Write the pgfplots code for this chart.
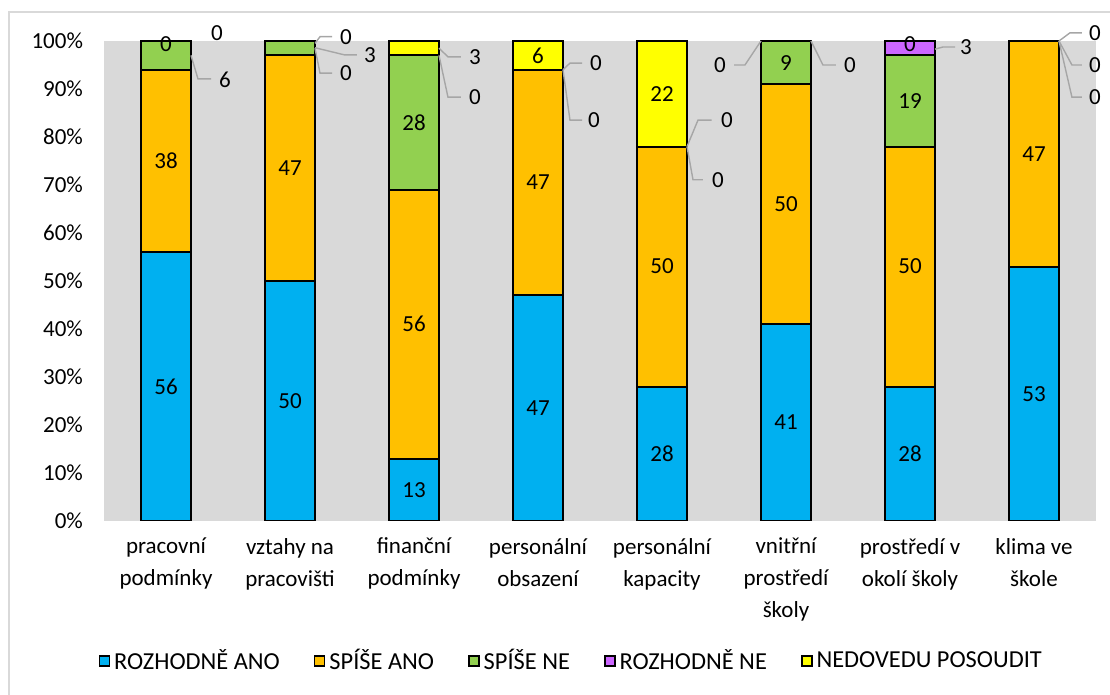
\documentclass[border=0pt]{standalone}
\usepackage{pgfplots}
\pgfplotsset{compat=1.18}
\usepackage{pgfplotstable}
\usepackage{fontspec}
\setmainfont{Carlito}

\definecolor{cAno}{HTML}{00B0F0}
\definecolor{cSpiseAno}{HTML}{FFC000}
\definecolor{cSpiseNe}{HTML}{92D050}
\definecolor{cNe}{HTML}{CC66FF}
\definecolor{cNevim}{HTML}{FFFF00}
\definecolor{plotbg}{HTML}{D9D9D9}
\definecolor{leader}{HTML}{A6A6A6}

\newcommand{\chartfont}{\fontsize{11.5}{16}\selectfont}
\newcommand{\legendfont}{\fontsize{12.2}{16}\selectfont}

% share of answers per area (percent)
\pgfplotstableread{
x ano spiseano spisene ne nevim
0 56 38 6 0 0
1 50 47 3 0 0
2 13 56 28 0 3
3 47 47 0 0 6
4 28 50 0 0 22
5 41 50 9 0 0
6 28 50 19 3 0
7 53 47 0 0 0
}\data

% data labels: position and text
\pgfplotstableread{
x y label
0 28 56
0 75 38
0 99.4 0
0.476 91.9 6
0.411 101.7 0
1 25 50
1 73.5 47
1.452 100.9 0
1.645 97.1 3
1.452 93.3 0
2 6.5 13
2 41 56
2 83 28
2.492 96.7 3
2.492 88.3 0
3 23.5 47
3 70.5 47
3 97 6
3.468 95.4 0
3.452 83.5 0
4 14 28
4 53 50
4 89 22
4.524 83.5 0
4.452 71.1 0
5 20.5 41
5 66 50
5 95.5 9
4.468 95.0 0
5.516 95.0 0
6 14 28
6 53 50
6 87.5 19
6 99.4 0
6.452 98.75 3
7 26.5 53
7 76.5 47
7.492 101.7 0
7.492 95.0 0
7.492 88.3 0
}\labels

\begin{document}
\begin{tikzpicture}
\useasboundingbox (-52pt,-87pt) rectangle (503pt,260.5pt);
\clip (-52pt,-87pt) rectangle (503pt,260.5pt);
\draw[plotbg, line width=0.75pt] (-47.5pt,-120pt) -- (-47.5pt,254.5pt) -- (520pt,254.5pt);

\begin{axis}[
    at={(0,0)}, anchor=south west,
    scale only axis, width=496pt, height=240pt,
    ybar stacked, bar width=25pt,
    xmin=-0.5, xmax=7.5, ymin=0, ymax=100,
    axis line style={draw=none}, tick style={draw=none},
    axis background/.style={fill=plotbg},
    xtick={0,...,7},
    xticklabels={{pracovní\\podmínky},{vztahy na\\pracovišti},{finanční\\podmínky},{personální\\obsazení},{personální\\kapacity},{vnitřní\\prostředí\\školy},{prostředí v\\okolí školy},{klima ve\\škole}},
    xticklabel style={align=center, font=\chartfont, yshift=-5pt},
    ytick={0,10,...,100},
    yticklabels={0\%,10\%,20\%,30\%,40\%,50\%,60\%,70\%,80\%,90\%,100\%},
    yticklabel style={font=\chartfont, xshift=-7pt},
    legend style={at={(0.472,-0.292)}, anchor=center, legend columns=-1,
        draw=none, fill=none, font=\legendfont,
        /tikz/every even column/.append style={column sep=15pt}},
    legend image code/.code={\draw[#1, draw=black, line width=0.8pt] (0pt,-2.5pt) rectangle (5pt,2.5pt);},
    every axis plot/.append style={draw=black, line width=1pt},
]
\addplot[fill=cAno] table[x=x, y=ano] {\data};
\addplot[fill=cSpiseAno] table[x=x, y=spiseano] {\data};
\addplot[fill=cSpiseNe] table[x=x, y=spisene] {\data};
\addplot[fill=cNe] table[x=x, y=ne] {\data};
\addplot[fill=cNevim] table[x=x, y=nevim] {\data};
\legend{ROZHODNĚ ANO, SPÍŠE ANO, SPÍŠE NE, ROZHODNĚ NE, NEDOVEDU POSOUDIT}
\end{axis}

\begin{axis}[
    at={(0,0)}, anchor=south west,
    scale only axis, width=496pt, height=240pt,
    xmin=-0.5, xmax=7.5, ymin=0, ymax=100,
    hide axis, clip=false,
    leader/.style={draw=leader, line width=0.7pt, mark=none},
]
\addplot[leader] coordinates {(0.2016,97) (0.258,92.1) (0.363,92.1)};
\addplot[leader] coordinates {(1.2016,99.5) (1.242,100.9) (1.339,100.9)};
\addplot[leader] coordinates {(1.2016,98.6) (1.44,97.1) (1.54,97.1)};
\addplot[leader] coordinates {(1.2016,98.5) (1.242,93.3) (1.339,93.3)};
\addplot[leader] coordinates {(2.2016,98.5) (2.274,96.7) (2.379,96.7)};
\addplot[leader] coordinates {(2.2016,97) (2.274,88.3) (2.379,88.3)};
\addplot[leader] coordinates {(3.2016,94) (3.258,95.4) (3.355,95.4)};
\addplot[leader] coordinates {(3.2016,94) (3.258,83.5) (3.355,83.5)};
\addplot[leader] coordinates {(4.2016,78) (4.29,83.5) (4.40,83.5)};
\addplot[leader] coordinates {(4.2016,78) (4.25,71.1) (4.33,71.1)};
\addplot[leader] coordinates {(4.7984,100) (4.669,95.0) (4.581,95.0)};
\addplot[leader] coordinates {(5.2016,100) (5.298,95.0) (5.403,95.0)};
\addplot[leader] coordinates {(6.2016,98.3) (6.266,98.75) (6.363,98.75)};
\addplot[leader] coordinates {(7.2016,100) (7.29,101.7) (7.387,101.7)};
\addplot[leader] coordinates {(7.2016,100) (7.306,95.0) (7.387,95.0)};
\addplot[leader] coordinates {(7.2016,100) (7.306,88.3) (7.387,88.3)};

\addplot[only marks, mark=none, nodes near coords, point meta=explicit symbolic,
    every node near coord/.append style={anchor=center, font=\chartfont, text=black}]
    table[x=x, y=y, meta=label] {\labels};
\end{axis}
\end{tikzpicture}
\end{document}
